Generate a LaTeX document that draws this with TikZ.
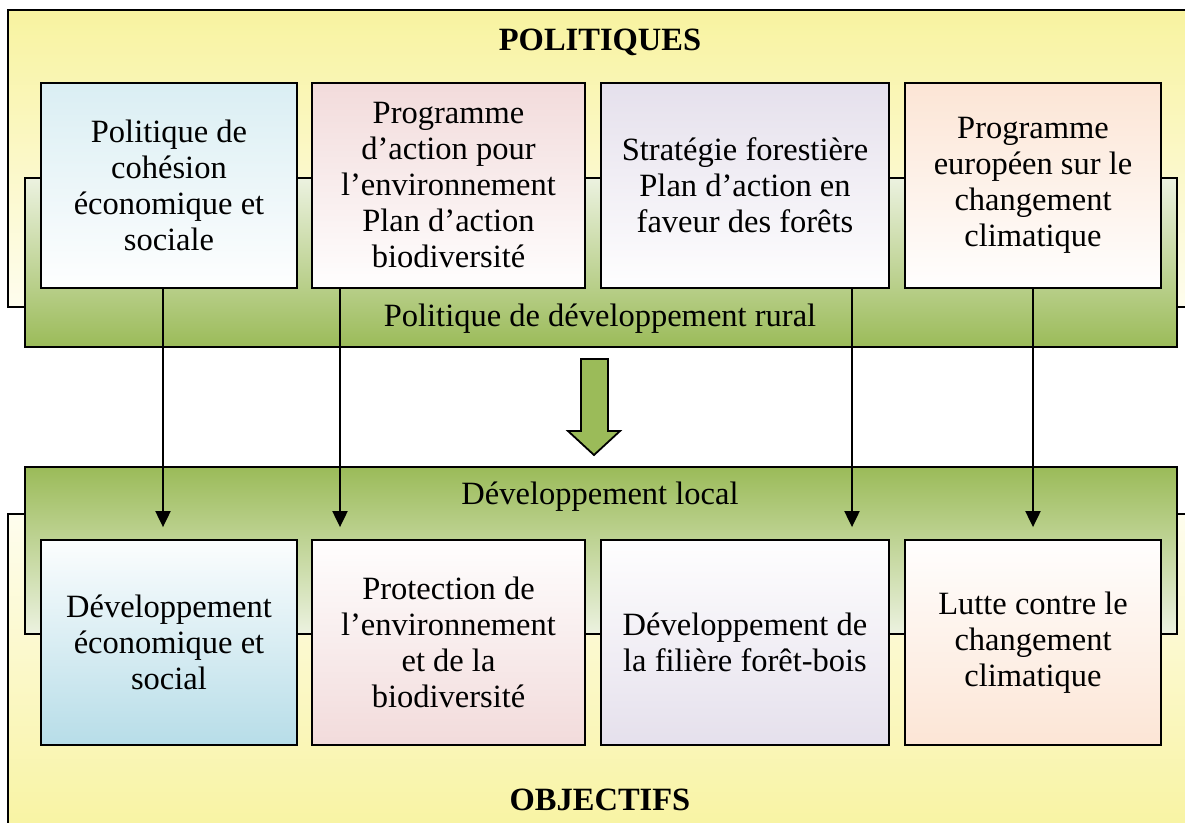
\documentclass[tikz,border=0pt]{standalone}
\usepackage{fontspec}
\setmainfont{Liberation Serif}
\usetikzlibrary{arrows.meta}
\definecolor{jaune}{RGB}{248,243,160}
\definecolor{jaunepale}{RGB}{254,253,238}
\definecolor{vert}{RGB}{155,187,89}
\definecolor{vertpale}{RGB}{236,242,224}
\definecolor{bleu}{RGB}{183,221,232}
\definecolor{bleupale}{RGB}{218,238,243}
\definecolor{rose}{RGB}{242,219,219}
\definecolor{lavande}{RGB}{229,224,236}
\definecolor{peche}{RGB}{252,229,213}

\begin{document}
\begin{tikzpicture}[x=1pt, y=-1pt]
            \tikzstyle{every node} = [font=\fontsize{32.5}{36}\selectfont, align=center]
            \tikzstyle{boite} = [draw, line width=1.8pt, minimum height=205pt, inner sep=0pt]
            \tikzstyle{fleche} = [line width=2pt, -{Triangle[width=15pt, length=16pt]}, shorten >=12pt]
            \clip (0, 0) rectangle (1185, 822);

            % cadres jaunes
            \draw[line width=1.8pt, top color=jaune, bottom color=jaunepale] (8, 10) rectangle (1210, 307);
            \draw[line width=1.8pt, top color=jaunepale, bottom color=jaune] (8, 514) rectangle (1210, 840);

            % bandeaux verts
            \draw[line width=1.8pt, top color=vertpale, bottom color=vert] (25, 178) rectangle (1177, 347);
            \draw[line width=1.8pt, top color=vert, bottom color=vertpale] (25, 467) rectangle (1177, 634);

            \node[font=\fontsize{32.5}{36}\selectfont\bfseries] (politiques) at (600, 42) {POLITIQUES};
            \node[font=\fontsize{32.5}{36}\selectfont\bfseries] (objectifs) at (600, 800) {OBJECTIFS};
            \node (rural) at (600, 319) {Politique de développement rural};
            \node (local) at (600, 497) {Développement local};

            % politiques
            \node[boite, minimum width=256pt, top color=bleupale, bottom color=white!97!bleupale] (cohesion) at (169, 185.5)
                {Politique de\\cohésion\\économique et\\sociale};
            \node[boite, minimum width=273pt, top color=rose, bottom color=white!97!rose] (environnement) at (448.5, 185.5)
                {Programme\\d’action pour\\l’environnement\\Plan d’action\\biodiversité};
            \node[boite, minimum width=288pt, top color=lavande, bottom color=white!97!lavande] (forestiere) at (745, 185.5)
                {Stratégie forestière\\Plan d’action en\\faveur des forêts};
            \node[boite, minimum width=256pt, top color=peche, bottom color=white!97!peche] (climat) at (1033, 185.5)
                {Programme\\européen sur le\\changement\\climatique};

            % objectifs
            \node[boite, minimum width=256pt, top color=white!95!bleu, bottom color=bleu] (economique) at (169, 642.5)
                {Développement\\économique et\\social};
            \node[boite, minimum width=273pt, top color=white!97!rose, bottom color=rose] (protection) at (448.5, 642.5)
                {Protection de\\l’environnement\\et de la\\biodiversité};
            \node[boite, minimum width=288pt, top color=white!97!lavande, bottom color=lavande] (filiere) at (745, 642.5)
                {Développement de\\la filière forêt-bois};
            \node[boite, minimum width=256pt, top color=white!97!peche, bottom color=peche] (lutte) at (1033, 642.5)
                {Lutte contre le\\changement\\climatique};

            % grosse fleche
            \draw[line width=1.8pt, fill=vert] (581, 359) -- (608, 359) -- (608, 431) -- (620, 431)
                -- (594, 455) -- (568, 431) -- (581, 431) -- cycle;

            \draw[fleche] (cohesion.south -| 163, 0) -- (economique.north -| 163, 0);
            \draw[fleche] (environnement.south -| 340, 0) -- (protection.north -| 340, 0);
            \draw[fleche] (forestiere.south -| 852, 0) -- (filiere.north -| 852, 0);
            \draw[fleche] (climat.south) -- (lutte.north);
        \end{tikzpicture}
\end{document}
